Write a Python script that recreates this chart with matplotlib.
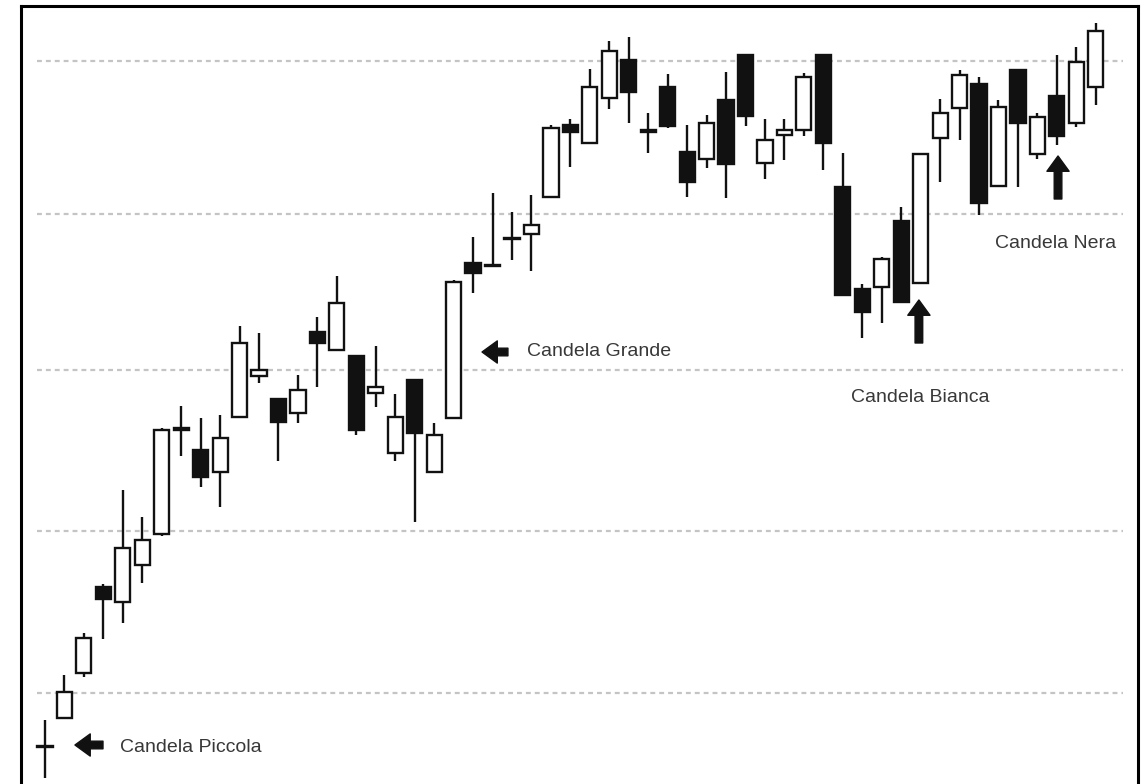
import matplotlib
matplotlib.use('Agg')
import matplotlib.pyplot as plt
from matplotlib import font_manager
import numpy as np

# candle values (open, high, low, close)
opens = [3.7, 6.6, 11.1, 19.7, 18.2, 21.9, 25.0, 35.4, 33.4, 31.2,
         36.7, 40.8, 38.5, 37.1, 45.2, 43.4, 42.8, 39.1, 33.1, 40.4,
         31.2, 36.6, 52.1, 51.8, 54.5, 55.0, 58.7, 65.9, 64.1, 68.6,
         72.4, 65.2, 69.7, 63.2, 62.5, 68.4, 72.9, 62.1, 64.9, 65.4,
         72.9, 59.7, 49.5, 49.7, 56.3, 50.1, 64.6, 67.6, 70.0, 59.8,
         71.4, 63.0, 68.8, 66.1, 69.7]
highs = [6.4, 10.9, 15.1, 20.0, 29.4, 26.7, 35.6, 37.8, 36.6, 36.9,
         45.8, 45.1, 38.6, 40.9, 46.7, 50.8, 42.9, 43.8, 39.0, 40.5,
         36.1, 50.4, 54.7, 59.1, 57.2, 58.9, 65.9, 66.5, 71.5, 74.3,
         74.7, 67.1, 71.0, 65.9, 66.9, 71.2, 73.0, 66.5, 66.5, 71.1,
         73.0, 63.1, 50.0, 52.7, 57.7, 63.1, 68.5, 71.4, 70.7, 68.4,
         71.5, 67.1, 72.9, 73.7, 76.1]
lows = [0.6, 6.6, 10.7, 14.5, 16.1, 20.1, 24.8, 32.8, 29.7, 27.7,
        36.6, 40.1, 32.3, 36.1, 39.7, 43.3, 34.9, 37.7, 32.3, 26.2,
        31.1, 36.5, 49.1, 51.7, 52.4, 51.3, 58.6, 61.7, 64.0, 67.5,
        66.1, 63.1, 65.6, 58.7, 61.6, 58.6, 65.8, 60.5, 62.4, 64.8,
        61.4, 48.8, 44.6, 46.1, 48.1, 50.0, 60.2, 64.4, 56.9, 59.7,
        59.7, 62.5, 63.9, 65.7, 67.9]
closes = [3.8, 9.2, 14.6, 18.5, 23.6, 24.4, 35.4, 35.6, 30.7, 34.6,
          44.1, 41.4, 36.2, 39.4, 44.1, 48.1, 35.4, 39.7, 36.7, 35.1,
          34.9, 50.2, 51.1, 51.9, 54.6, 55.9, 65.6, 65.2, 69.7, 73.3,
          69.2, 65.4, 65.8, 60.2, 66.1, 62.0, 66.8, 64.4, 65.4, 70.7,
          64.1, 48.9, 47.2, 52.5, 48.2, 63.0, 67.1, 70.9, 58.1, 67.7,
          66.1, 66.7, 64.8, 72.2, 75.3]

grid_levels = [9.1, 25.3, 41.4, 57.0, 72.3]

# annotations: text, arrow tip, arrow tail, text position, alignment
labels = ['Candela Piccola', 'Candela Grande', 'Candela Bianca', 'Candela Nera']
arrow_tips = [(1.54, 3.9), (22.46, 43.2), (44.91, 48.4), (52.06, 62.8)]
arrow_tails = [(2.98, 3.9), (23.79, 43.2), (44.91, 44.1), (52.06, 58.5)]
text_pos = [(3.85, 3.7), (24.77, 43.2), (44.96, 38.6), (51.95, 54.1)]
text_ha = ['left', 'left', 'center', 'center']

# narrow font if there is one
names = {f.name for f in font_manager.fontManager.ttflist}
if 'Liberation Sans Narrow' in names:
    label_font, label_size = 'Liberation Sans Narrow', 17
else:
    label_font, label_size = 'Liberation Sans', 14

fig = plt.figure(figsize=(11.43, 7.84), dpi=100)
ax = fig.add_axes([21 / 1143, 0, 1117 / 1143, 778 / 784])

x = np.arange(len(opens))
o = np.array(opens)
c = np.array(closes)
colors = ['white' if cl >= op else '#111111' for op, cl in zip(o, c)]
bottoms = np.minimum(o, c)
heights = np.maximum(np.abs(c - o), 0.1)

ax.hlines(grid_levels, -0.4, 55.4, colors='#c4c4c4', linewidth=1.6,
          linestyles=(0, (2.2, 1.8)), zorder=0)
ax.vlines(x, lows, highs, colors='#111111', linewidth=1.7, zorder=1)
ax.bar(x, heights, bottom=bottoms, width=0.78, color=colors,
       edgecolor='#111111', linewidth=1.7, zorder=2)

for lab, tip, tail, tp, ha in zip(labels, arrow_tips, arrow_tails, text_pos, text_ha):
    ax.annotate('', xy=tip, xytext=tail,
                arrowprops=dict(arrowstyle='simple,head_width=1.6,head_length=1.1,tail_width=0.55',
                                mutation_scale=10, color='#111111', shrinkA=0, shrinkB=0))
    ax.text(tp[0], tp[1], lab, ha=ha, va='center', fontsize=label_size, color='#383838',
            family=[label_font, 'DejaVu Sans'])

ax.set_xlim(-1.233, 56.17)
ax.set_ylim(0, 77.8)
ax.set_xticks([])
ax.set_yticks([])
for side in ['left', 'right', 'top']:
    ax.spines[side].set_linewidth(2.2)
    ax.spines[side].set_color('black')
ax.spines['bottom'].set_visible(False)

fig.savefig('out.png', dpi=100, facecolor='white')
